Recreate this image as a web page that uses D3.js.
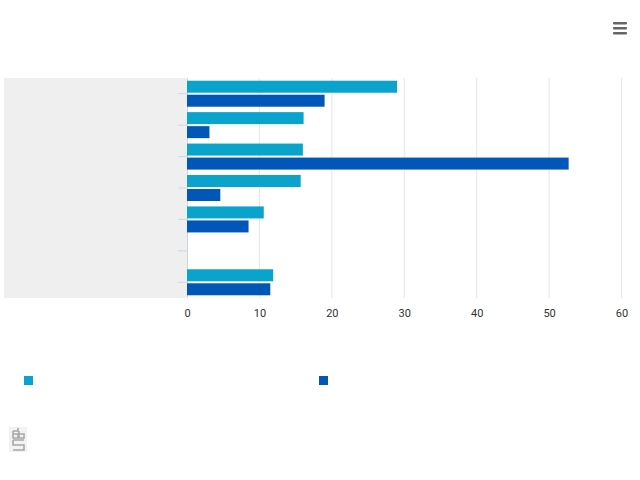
<!DOCTYPE html>
<html><head><meta charset="utf-8">
<script src="https://cdn.jsdelivr.net/npm/d3@7"></script>
<style>body{margin:0;background:#fff;}svg{display:block;font-family:Roboto,"DejaVu Sans",sans-serif;}</style>
</head><body><svg id="c" width="640" height="480"></svg>
<script>
const categories = ["c1","c2","c3","c4","c5","c6","c7"];
const seriesA = [29.0, 16.1, 16.0, 15.7, 10.6, null, 11.9];
const seriesB = [19.0, 3.1, 52.7, 4.6, 8.5, null, 11.5];
const seriesNames = ["", ""];
const xTicks = [0,10,20,30,40,50,60];
const colors = ["#0aa3cb", "#0057b7"];

const svg = d3.select("#c");
const L = 187, R = 621.5, T = 78, B = 298;
const x = d3.scaleLinear().domain([0,60]).range([L,R]);
const y = d3.scaleBand().domain(categories).range([T,B]).paddingInner(0).paddingOuter(0);
const barH = 12, gap = 2;
const off = (y.bandwidth() - 2*barH - gap)/2;

// grey label area
svg.append("rect").attr("x",4).attr("y",T).attr("width",L-4).attr("height",B-T).attr("fill","#efefef");

// gridlines
svg.append("g").selectAll("line").data(xTicks.slice(1)).join("line")
  .attr("x1",d=>x(d)).attr("x2",d=>x(d)).attr("y1",T).attr("y2",B)
  .attr("stroke","#e6e6e6").attr("stroke-width",1);

// x axis labels
const xa = svg.append("g").attr("transform",`translate(0,${B})`)
  .call(d3.axisBottom(x).tickValues(xTicks).tickSize(0).tickPadding(11));
xa.select(".domain").remove();
xa.selectAll("text").attr("fill","#333").style("font-size","11px").style("font-family","Roboto, sans-serif");

// y axis
const ya = svg.append("g").attr("transform",`translate(${L},0)`)
  .call(d3.axisLeft(y).tickSize(9).tickFormat(""));
ya.select(".domain").attr("stroke","#ccd6eb").attr("d",`M0.5,${T}V${B}`);
ya.selectAll(".tick line").attr("stroke","#ccd6eb");

// bars
[seriesA, seriesB].forEach((s,i)=>{
  svg.append("g").selectAll("rect").data(categories.map((c,j)=>({c,v:s[j]})).filter(d=>d.v!=null)).join("rect")
    .attr("x",x(0)).attr("y",d=>y(d.c)+off+i*(barH+gap)).attr("height",barH)
    .attr("width",d=>x(d.v)-x(0)).attr("fill",colors[i]);
});

// legend
[[24,376],[319,376]].forEach((p,i)=>{
  svg.append("rect").attr("x",p[0]).attr("y",p[1]).attr("width",9).attr("height",9).attr("fill",colors[i]);
  svg.append("text").attr("x",p[0]+16).attr("y",p[1]+9).attr("fill","#333").style("font-size","12px").text(seriesNames[i]);
});

// menu icon
[23,28,33].forEach(yy=>svg.append("rect").attr("x",613).attr("y",yy-1).attr("width",14).attr("height",2.5).attr("rx",1).attr("fill","#666"));

// logo
const lg = svg.append("g").attr("transform","translate(9,427)");
lg.append("rect").attr("x",0).attr("y",0).attr("width",18).attr("height",25).attr("fill","#f2f2f2");
lg.append("path").attr("fill","none").attr("stroke","#a8a8a8").attr("stroke-width",1.6)
  .attr("d","M4,4H9V1 M4,4V11H9V7H4 M10,7H15V11H10V4 M4,13H15 M4,13V18H15V23H4");
</script></body></html>
